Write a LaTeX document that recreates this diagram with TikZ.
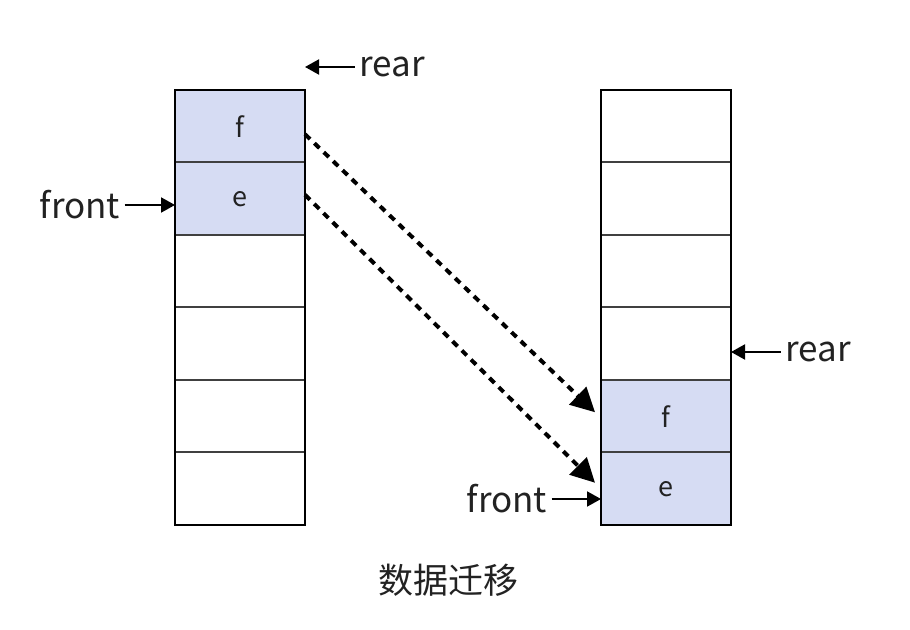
\documentclass[tikz,border=0pt]{standalone}
\usepackage{fontspec}
\setmainfont{Noto Sans CJK SC}
\usepackage{xcolor}
\usepackage{tikz}
\usetikzlibrary{arrows.meta,positioning}

\definecolor{cellfill}{RGB}{214,220,243}
\definecolor{textgray}{RGB}{34,34,34}

\begin{document}
\begin{tikzpicture}[
    x=0.5pt, y=-0.5pt,
    node distance=0pt,
    cell/.style={draw=black!75, line width=1pt, outer sep=0pt, minimum width=65pt, minimum height=36.25pt, inner sep=0pt, font=\fontsize{13.5}{15}\selectfont, text=textgray},
    used/.style={cell, fill=cellfill},
    lbl/.style={font=\fontsize{17.5}{20}\selectfont, text=textgray, inner sep=2pt},
    arr/.style={-{Triangle[length=7pt,width=7.5pt]}, line width=1pt},
    move/.style={-{Triangle[length=12pt,width=12pt]}, line width=2pt, dash pattern=on 3.5pt off 3pt}
]
\useasboundingbox (0,0) rectangle (910,630);
% left queue
\node[used] (lc1) at (240,126.25) {f};
\node[used, below=of lc1] (lc2) {e};
\node[cell, below=of lc2] (lc3) {};
\node[cell, below=of lc3] (lc4) {};
\node[cell, below=of lc4] (lc5) {};
\node[cell, below=of lc5] (lc6) {};
\draw[line width=1pt] (lc1.north west) rectangle (lc6.south east);
% right queue
\node[cell] (rc1) at (666,126.25) {};
\node[cell, below=of rc1] (rc2) {};
\node[cell, below=of rc2] (rc3) {};
\node[cell, below=of rc3] (rc4) {};
\node[used, below=of rc4] (rc5) {f};
\node[used, below=of rc5] (rc6) {e};
\draw[line width=1pt] (rc1.north west) rectangle (rc6.south east);
% pointers
\node[lbl] (rearL) at (392,67) {rear};
\node[lbl] (frontL) at (80,205) {front};
\node[lbl] (rearR) at (818,352) {rear};
\node[lbl] (frontR) at (507,499) {front};
\draw[arr] (rearL.west) -- (rearL.west -| lc1.east);
\draw[arr] (frontL.east) -- (frontL.east -| lc2.west);
\draw[arr] (rearR.west) -- (rearR.west -| rc4.east);
\draw[arr] (frontR.east) -- (frontR.east -| rc6.west);
% migration
\draw[move] ([yshift=-4pt]lc1.east) -- ([xshift=-3pt,yshift=2pt]rc5.west);
\draw[move] ([yshift=2pt]lc2.east) -- ([xshift=-3pt,yshift=3pt]rc6.west);
\node[lbl] (caption) at (448,580) {数据迁移};
\end{tikzpicture}
\end{document}
